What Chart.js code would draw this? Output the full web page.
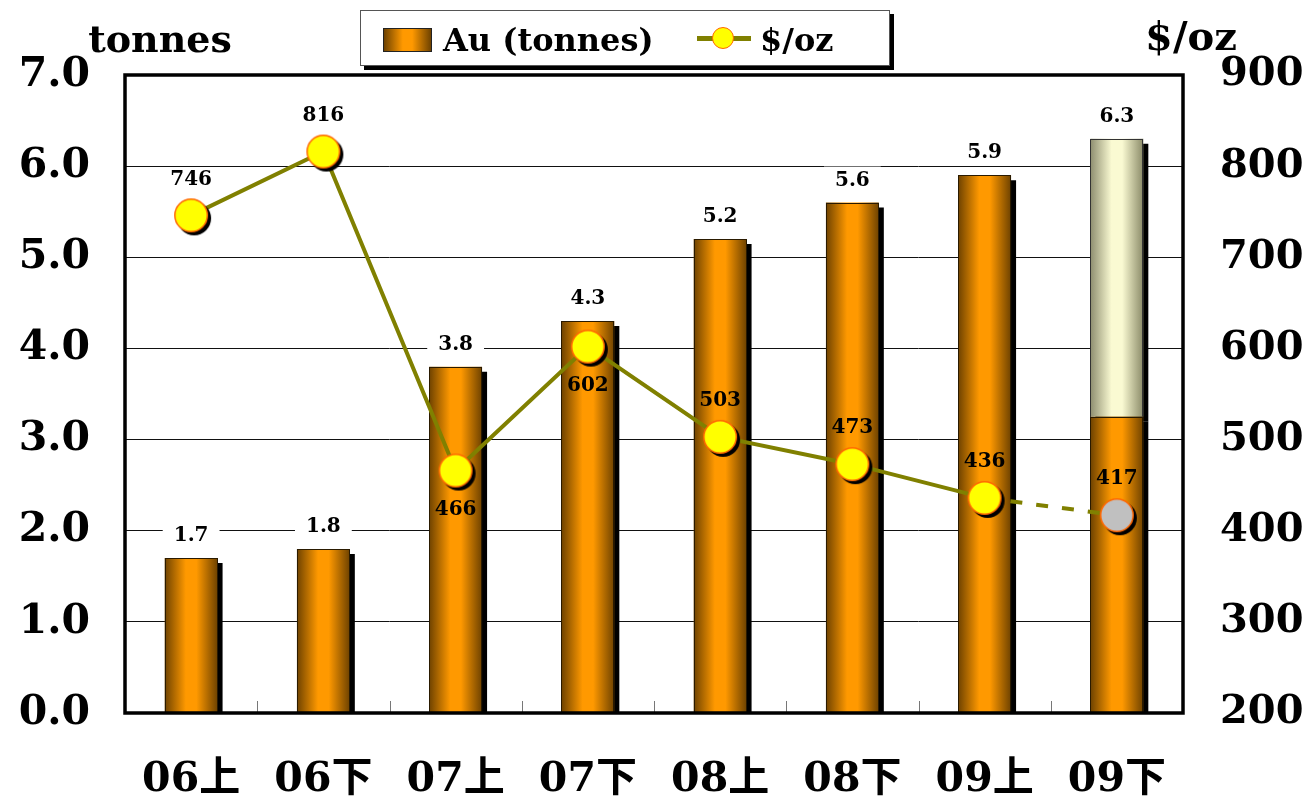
<!DOCTYPE html>
<html>
<head>
<meta charset="utf-8">
<title>Au production and gold price</title>
<script src="https://cdn.jsdelivr.net/npm/chart.js@4/dist/chart.umd.min.js"></script>
<style>
  html, body { margin: 0; padding: 0; background: #fff; }
  #wrap { position: relative; width: 1315px; height: 800px; }
  #chart { position: absolute; left: 0; top: 0; }
  #legend {
    position: absolute; left: 360px; top: 10px; width: 528px; height: 54px;
    border: 1px solid #555; background: #fff; box-shadow: 4px 4px 0 #000;
    font: bold 32px 'DejaVu Serif', serif; color: #000;
  }
  #legend .swatch {
    position: absolute; left: 22px; top: 17px; width: 47px; height: 22px;
    border: 1px solid #222;
    background: linear-gradient(to right, #6e4200 0%, #ff9900 40%, #ff9900 60%, #6e4200 100%);
  }
  #legend .lbl1 { position: absolute; left: 82px; top: 10px; }
  #legend .lineKey { position: absolute; left: 336px; top: 25px; width: 54px; height: 5px; background: #808000; }
  #legend .dot {
    position: absolute; left: 351px; top: 16px; width: 22px; height: 22px; border-radius: 50%;
    background: #ffff00; border: 1.5px solid #ff6600; box-sizing: border-box;
  }
  #legend .lbl2 { position: absolute; left: 399px; top: 10px; }
</style>
</head>
<body>
<div id="wrap">
  <canvas id="chart" width="1315" height="800"></canvas>
  <div id="legend">
    <div class="swatch"></div><div class="lbl1">Au (tonnes)</div>
    <div class="lineKey"></div><div class="dot"></div><div class="lbl2">$/oz</div>
  </div>
</div>
<script>
// Half-year periods
const periods = ['06上', '06下', '07上', '07下', '08上', '08下', '09上', '09下'];
// Gold output, tonnes (last half split into actual and projected parts)
const goldActual = [1.7, 1.8, 3.8, 4.3, 5.2, 5.6, 5.9, 3.25];
const goldProjected = [null, null, null, null, null, null, null, 3.05];
// Average gold price, $/oz
const pricePerOz = [746, 816, 466, 602, 503, 473, 436, 417];
// Axis tick ranges
const tonnesTicks = { min: 0, max: 7, step: 1 };
const priceTicks = { min: 200, max: 900, step: 100 };

const FONT = "'DejaVu Serif', 'Noto Sans CJK JP', serif";
const BAR_PCT = 0.4;
Chart.defaults.color = '#000';
Chart.defaults.font.family = FONT;

function barGradient(stops) {
  return function (c) {
    const chart = c.chart;
    const xs = chart.scales && chart.scales.x;
    if (!xs || !chart.chartArea || c.dataIndex === undefined) return stops[1][1];
    const cx = xs.getPixelForValue(c.dataIndex);
    const w = xs.width / periods.length * BAR_PCT;
    const g = chart.ctx.createLinearGradient(cx - w / 2, 0, cx + w / 2, 0);
    stops.forEach(s => g.addColorStop(s[0], s[1]));
    return g;
  };
}

// Circle marker image with an offset drop shadow baked in
function makeMarker(fill) {
  const r = 17, pad = 6, size = 2 * (r + pad);
  const cv = document.createElement('canvas');
  cv.width = size; cv.height = size;
  const x = cv.getContext('2d');
  const c = size / 2;
  x.fillStyle = '#000';
  x.beginPath(); x.arc(c + 3, c + 3, r, 0, Math.PI * 2); x.fill();
  x.fillStyle = fill;
  x.beginPath(); x.arc(c, c, r - 0.75, 0, Math.PI * 2); x.fill();
  x.lineWidth = 1.5; x.strokeStyle = '#ff6600'; x.stroke();
  return cv;
}
const yellowMarker = makeMarker('#ffff00');
const grayMarker = makeMarker('#c0c0c0');
const lastIdx = pricePerOz.length - 1;

// Drop shadows for bars, value labels, frame and axis titles
const decorations = {
  id: 'decorations',
  beforeDatasetDraw(chart, args) {
    const ds = chart.data.datasets[args.index];
    if (ds.type === 'bar') {
      const ctx = chart.ctx;
      ctx.save();
      ctx.shadowColor = '#000';
      ctx.shadowOffsetX = 5;
      ctx.shadowOffsetY = 5;
      ctx.shadowBlur = 0;
    }
  },
  afterDatasetDraw(chart, args) {
    const ds = chart.data.datasets[args.index];
    if (ds.type !== 'bar') return;
    const ctx = chart.ctx;
    ctx.restore();
    // thin outline around each bar segment
    const a = chart.chartArea;
    ctx.save();
    ctx.beginPath();
    ctx.rect(a.left, a.top - 10, a.right - a.left, a.bottom - a.top + 10);
    ctx.clip();
    ctx.strokeStyle = ds.id === 'actual' ? '#2a1a00' : '#333';
    ctx.lineWidth = 1;
    args.meta.data.forEach((el, i) => {
      if (ds.data[i] == null) return;
      const p = el.getProps(['x', 'y', 'base', 'width'], true);
      ctx.strokeRect(Math.round(p.x - p.width / 2) + 0.5, Math.round(p.y) + 0.5,
        Math.round(p.width) - 1, Math.round(p.base - p.y));
    });
    ctx.restore();
    if (ds.id !== 'actual') return;
    // Bar total labels on white boxes, drawn before the price line
    const ys = chart.scales.y, xs = chart.scales.x;
    ctx.save();
    ctx.font = 'bold 20px ' + FONT;
    ctx.textAlign = 'center';
    ctx.textBaseline = 'middle';
    periods.forEach((p, i) => {
      const total = goldActual[i] + (goldProjected[i] || 0);
      const txt = total.toFixed(1);
      const x = xs.getPixelForValue(i);
      const y = ys.getPixelForValue(total) - 23;
      const w = ctx.measureText(txt).width + 22;
      ctx.fillStyle = '#fff';
      ctx.fillRect(x - w / 2, y - 13, w, 26);
      ctx.fillStyle = '#000';
      ctx.fillText(txt, x, y + 1);
    });
    ctx.restore();
  },
  afterDatasetsDraw(chart) {
    const ctx = chart.ctx;
    const meta = chart.getDatasetMeta(0);
    const below = new Set([2, 3]);
    ctx.save();
    ctx.font = 'bold 20px ' + FONT;
    ctx.textAlign = 'center';
    ctx.textBaseline = 'middle';
    ctx.fillStyle = '#000';
    meta.data.forEach((pt, i) => {
      const dy = below.has(i) ? 39 : -36;
      ctx.fillText(String(pricePerOz[i]), pt.x, pt.y + dy);
    });
    ctx.restore();
  },
  afterDraw(chart) {
    const ctx = chart.ctx;
    const a = chart.chartArea;
    ctx.save();
    // Category boundary ticks along the bottom
    const cw = (a.right - a.left) / periods.length;
    ctx.strokeStyle = '#777';
    ctx.lineWidth = 1;
    for (let k = 1; k < periods.length; k++) {
      const x = Math.round(a.left + k * cw) + 0.5;
      ctx.beginPath(); ctx.moveTo(x, a.bottom); ctx.lineTo(x, a.bottom - 12); ctx.stroke();
    }
    // Plot frame
    ctx.strokeStyle = '#000';
    ctx.lineWidth = 3.5;
    ctx.strokeRect(a.left, a.top, a.right - a.left, a.bottom - a.top);
    // Axis titles
    ctx.font = 'bold 38px ' + FONT;
    ctx.fillStyle = '#000';
    ctx.textAlign = 'center';
    ctx.textBaseline = 'alphabetic';
    ctx.fillText('tonnes', 160, 52);
    ctx.font = 'bold 40px ' + FONT;
    ctx.fillText('$/oz', 1191, 50);
    ctx.restore();
  }
};

new Chart(document.getElementById('chart'), {
  data: {
    labels: periods,
    datasets: [
      {
        type: 'line', id: 'price', label: '$/oz', yAxisID: 'y1', order: 0,
        data: pricePerOz,
        borderColor: '#808000', borderWidth: 4, tension: 0,
        pointStyle: c => c.dataIndex === lastIdx ? grayMarker : yellowMarker,
        pointRadius: 17,
        segment: { borderDash: c => c.p1DataIndex === lastIdx ? [12, 14] : undefined }
      },
      {
        type: 'bar', id: 'actual', label: 'Au (tonnes)', yAxisID: 'y', order: 1, stack: 'au',
        data: goldActual,
        backgroundColor: barGradient([[0, '#6e4200'], [0.4, '#ff9900'], [0.6, '#ff9900'], [1, '#6e4200']]),
        borderWidth: 0,
        categoryPercentage: 1, barPercentage: BAR_PCT
      },
      {
        type: 'bar', id: 'projected', label: 'Au projected', yAxisID: 'y', order: 2, stack: 'au',
        data: goldProjected,
        backgroundColor: barGradient([[0, '#8e8e70'], [0.4, '#fafad2'], [0.6, '#fafad2'], [1, '#8a8a68']]),
        borderWidth: 0,
        categoryPercentage: 1, barPercentage: BAR_PCT
      }
    ]
  },
  options: {
    responsive: false,
    animation: false,
    events: [],
    layout: { padding: { top: 75, left: 0, right: 0, bottom: 0 } },
    plugins: { legend: { display: false }, tooltip: { enabled: false }, title: { display: false } },
    scales: {
      x: {
        stacked: true,
        grid: { display: false, drawTicks: false },
        border: { display: false },
        ticks: { font: { size: 41, weight: 'bold', family: FONT }, padding: 43, color: '#000', maxRotation: 0 },
        afterFit: s => { s.height = 87; }
      },
      y: {
        position: 'left', stacked: true,
        min: tonnesTicks.min, max: tonnesTicks.max,
        grid: { color: '#111', lineWidth: 1, drawTicks: false },
        border: { display: false },
        ticks: {
          stepSize: tonnesTicks.step, padding: 35, color: '#000',
          font: { size: 41, weight: 'bold', family: FONT },
          callback: v => Number(v).toFixed(1)
        },
        afterFit: s => { s.width = 125; }
      },
      y1: {
        position: 'right',
        min: priceTicks.min, max: priceTicks.max,
        grid: { drawOnChartArea: false, drawTicks: false },
        border: { display: false },
        ticks: {
          stepSize: priceTicks.step, padding: 37, color: '#000',
          font: { size: 40, weight: 'bold', family: FONT }
        },
        afterFit: s => { s.width = 132; }
      }
    }
  },
  plugins: [decorations]
});
</script>
</body>
</html>
